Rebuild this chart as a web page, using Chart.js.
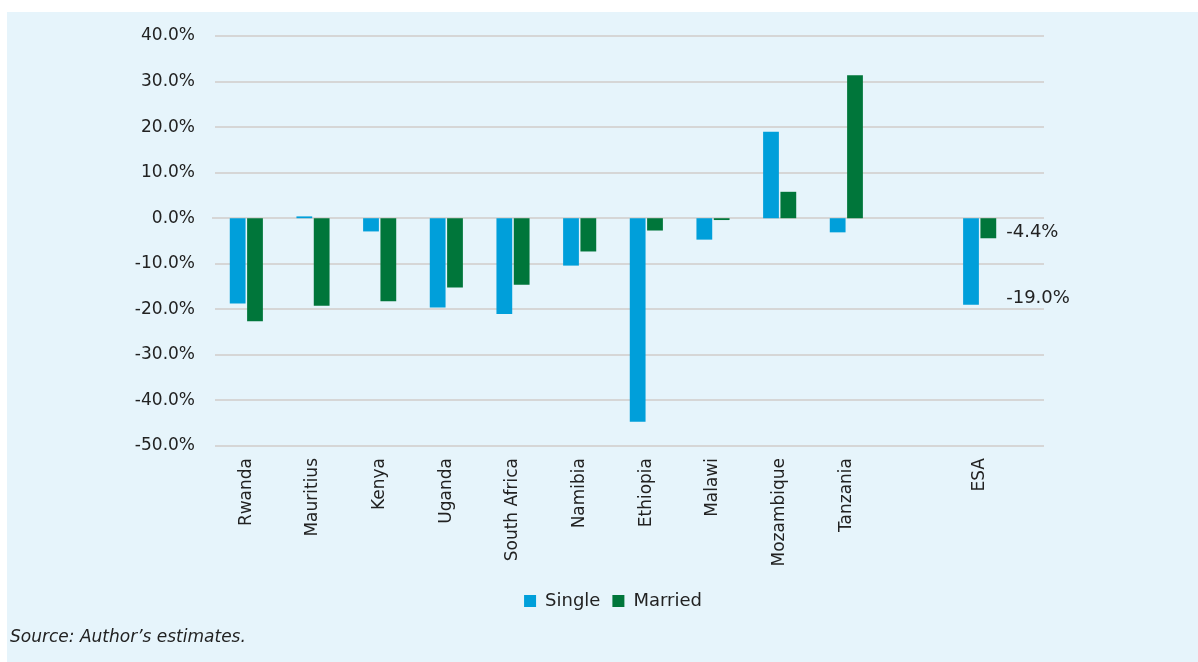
<!DOCTYPE html>
<html>
<head>
<meta charset="utf-8">
<script src="https://cdn.jsdelivr.net/npm/chart.js@4.4.1/dist/chart.umd.min.js"></script>
<style>
  html, body { margin: 0; padding: 0; background: #fff; overflow: hidden; }
  #panel { position: absolute; left: 7px; top: 12px; width: 1191px; height: 650px; background: #e6f4fb; overflow: hidden; }
  #chart { position: absolute; left: 0; top: 0; }
  #source { position: absolute; left: 3px; top: 614px; font: italic 17px "DejaVu Sans", sans-serif; color: #222; }
</style>
</head>
<body>
<div id="panel">
  <canvas id="chart" width="1191" height="650"></canvas>
  <div id="source">Source: Author’s estimates.</div>
</div>
<script>
// categories (blank slot keeps the gap before ESA)
var countries = ['Rwanda', 'Mauritius', 'Kenya', 'Uganda', 'South Africa', 'Namibia', 'Ethiopia', 'Malawi', 'Mozambique', 'Tanzania', '', 'ESA'];
var single  = [-18.7, 0.4, -2.9, -19.6, -21.0, -10.4, -44.7, -4.7, 19.0, -3.1, null, -19.0];
var married = [-22.6, -19.2, -18.2, -15.2, -14.6, -7.3, -2.7, -0.4, 5.8, 31.4, null, -4.4];
var yTicks  = [-50, -40, -30, -20, -10, 0, 10, 20, 30, 40];
var labelledCategory = 'ESA';

var font = "'DejaVu Sans', sans-serif";
var textColor = '#222';

// grid lines run a bit past the last bar
var extendedGrid = {
    id: 'extendedGrid',
    beforeDatasetsDraw: function (chart) {
        var y = chart.scales.y, area = chart.chartArea, ctx = chart.ctx;
        ctx.save();
        ctx.strokeStyle = '#d6d6d6';
        ctx.lineWidth = 2;
        yTicks.forEach(function (v) {
            var py = Math.round(y.getPixelForValue(v));
            ctx.beginPath();
            ctx.moveTo(v === 0 ? area.left - 1 : area.left + 2, py);
            ctx.lineTo(area.right + 31, py);
            ctx.stroke();
        });
        ctx.restore();
    }
};

// value labels beside the ESA bars
var esaLabels = {
    id: 'esaLabels',
    afterDatasetsDraw: function (chart) {
        var idx = countries.indexOf(labelledCategory);
        var ctx = chart.ctx;
        var lastBar = chart.getDatasetMeta(1).data[idx];
        var x = lastBar.x + lastBar.width / 2 + 10;
        ctx.save();
        ctx.font = '18px ' + font;
        ctx.fillStyle = textColor;
        ctx.textAlign = 'left';
        ctx.textBaseline = 'middle';
        chart.data.datasets.forEach(function (ds) {
            var v = ds.data[idx];
            var py = chart.scales.y.getPixelForValue(v);
            ctx.fillText(v.toFixed(1) + '%', x, py - 6);
        });
        ctx.restore();
    }
};

new Chart(document.getElementById('chart').getContext('2d'), {
    type: 'bar',
    data: {
        labels: countries,
        datasets: [
            { label: 'Single', data: single, backgroundColor: '#009fda', categoryPercentage: 0.52, barPercentage: 0.91 },
            { label: 'Married', data: married, backgroundColor: '#00763a', categoryPercentage: 0.52, barPercentage: 0.91 }
        ]
    },
    options: {
        responsive: false,
        animation: false,
        layout: { padding: { top: 24, right: 185, bottom: 42, left: 0 } },
        plugins: {
            legend: {
                position: 'bottom',
                fullSize: false,
                labels: {
                    boxWidth: 12,
                    boxHeight: 12,
                    padding: 12,
                    color: textColor,
                    font: { family: font, size: 18 }
                }
            },
            tooltip: { enabled: false }
        },
        scales: {
            x: {
                grid: { display: false, drawTicks: false },
                border: { display: false },
                ticks: {
                    minRotation: 90,
                    maxRotation: 90,
                    autoSkip: false,
                    padding: 12,
                    color: textColor,
                    font: { family: font, size: 17 }
                },
                afterFit: function (scale) { scale.height = 134; }
            },
            y: {
                min: -50,
                max: 40,
                grid: { display: false, drawTicks: false },
                border: { display: false },
                ticks: {
                    stepSize: 10,
                    padding: 18,
                    color: textColor,
                    font: { family: font, size: 17 },
                    callback: function (v) { return v.toFixed(1) + '%'; }
                },
                afterFit: function (scale) {
                    scale.width = 206;
                    scale.paddingTop = 0;
                    scale.paddingBottom = 0;
                }
            }
        }
    },
    plugins: [extendedGrid, esaLabels]
});
</script>
</body>
</html>
